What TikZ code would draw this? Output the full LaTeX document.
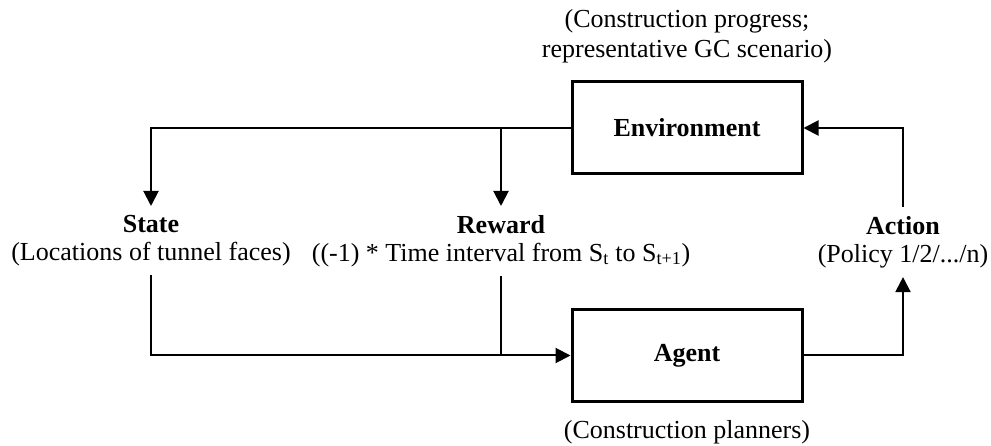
\documentclass[tikz,border=0pt]{standalone}
\usepackage{fontspec}
\setmainfont{Liberation Serif}
\usetikzlibrary{arrows.meta}
\begin{document}
\begin{tikzpicture}[x=1pt,y=-1pt,
  box/.style={draw, line width=3pt, minimum width=230pt, minimum height=92pt,
    inner sep=0pt, font=\fontsize{26}{28}\selectfont\bfseries},
  lbl/.style={align=center, font=\fontsize{26}{28}\selectfont,
    inner xsep=0pt, inner ysep=9pt},
  captext/.style={align=center, font=\fontsize{26}{30}\selectfont, inner sep=0pt},
  conn/.style={line width=2pt},
  arr/.style={conn, -{Triangle[length=15pt,width=15pt]}}]
\useasboundingbox (0,0) rectangle (991,446);

\node[box] (env) at (687,128) {Environment};
\node[box] (agent) at (687,355.5) {Agent};
\node[captext, anchor=south] (envcap) at (687,63) {(Construction progress;\\representative GC scenario)};
\node[captext, anchor=south] (agentcap) at (687,444) {(Construction planners)};

\node[lbl, anchor=north] (state) at (151,206) {\textbf{State}\\(Locations of tunnel faces)};
\node[lbl, anchor=north] (reward) at (501,206) {\textbf{Reward}\\((-1) * Time interval from S\textsubscript{t} to S\textsubscript{t+1})};
\node[lbl, anchor=north] (action) at (903,207) {\textbf{Action}\\(Policy 1/2/.../n)};

\coordinate (rsplit) at (reward.north |- env.west);
\coordinate (rjoin) at (reward.south |- agent.west);

\draw[arr] (env.west) -| (state.north);
\draw[arr] (rsplit) -- (reward.north);
\draw[arr] (state.south) |- (agent.west);
\draw[conn] (reward.south) -- (rjoin);
\draw[arr] (agent.east) -| (action.south);
\draw[arr] (action.north) |- (env.east);
\end{tikzpicture}
\end{document}
